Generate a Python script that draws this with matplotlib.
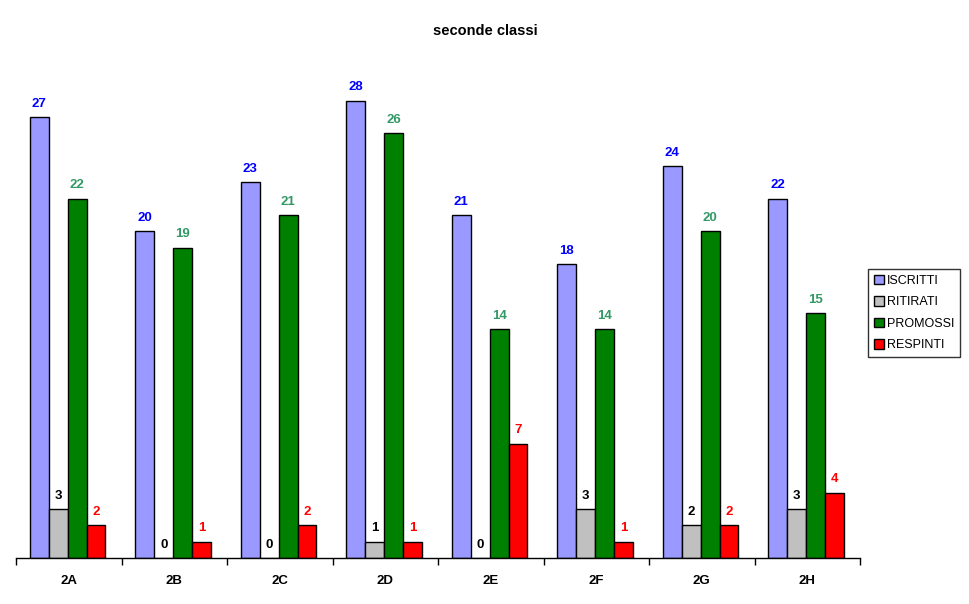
import numpy as np
import matplotlib
matplotlib.use("Agg")
import matplotlib.pyplot as plt

# Data
classi = ["2A", "2B", "2C", "2D", "2E", "2F", "2G", "2H"]
iscritti = [27, 20, 23, 28, 21, 18, 24, 22]
ritirati = [3, 0, 0, 1, 0, 3, 2, 3]
promossi = [22, 19, 21, 26, 14, 14, 20, 15]
respinti = [2, 1, 2, 1, 7, 1, 2, 4]

series = [
    ("ISCRITTI", iscritti, "#9999FF", "#0000FF"),
    ("RITIRATI", ritirati, "#C0C0C0", "#000000"),
    ("PROMOSSI", promossi, "#008000", "#339966"),
    ("RESPINTI", respinti, "#FF0000", "#FF0000"),
]

plt.rcParams["font.family"] = ["Liberation Sans", "DejaVu Sans"]

fig = plt.figure(figsize=(9.7, 6.04), dpi=100)
ax = fig.add_axes([16 / 970, 46 / 604, 844 / 970, 490 / 604])

x = np.arange(len(classi))
w = 0.179
start = -1.5 * w - 0.01

for i, (name, vals, col, lcol) in enumerate(series):
    pos = x + start + i * w
    ax.bar(pos, vals, width=w, color=col, edgecolor="black", linewidth=1, label=name)
    for p, v in zip(pos, vals):
        ax.text(p, v + 0.45, str(v), ha="center", va="bottom", fontsize=9.5,
                fontweight="bold", color=lcol)

ax.set_xlim(-0.5, len(classi) - 0.5)
ax.set_ylim(0, 30)
ax.set_yticks([])
for s in ["top", "right", "left"]:
    ax.spines[s].set_visible(False)
ax.spines["bottom"].set_linewidth(1)

ax.set_xticks(np.arange(len(classi) + 1) - 0.5)
ax.set_xticklabels([])
ax.set_xticks(x, minor=True)
ax.set_xticklabels(classi, minor=True, fontsize=9.5, fontweight="bold")
ax.tick_params(axis="x", which="major", length=5, width=1, direction="out")
ax.tick_params(axis="x", which="minor", length=0, pad=12)

fig.text(485 / 970, 1 - 31 / 604, "seconde classi", ha="center", va="center",
         fontsize=10.5, fontweight="bold")

leg = ax.legend(loc="center left", frameon=True, fancybox=False,
                edgecolor="black", fontsize=9, handlelength=0.8, handleheight=0.8,
                handletextpad=0.3, borderpad=0.45, labelspacing=0.75,
                borderaxespad=0)
leg.get_frame().set_linewidth(1)
leg.set_bbox_to_anchor((868 / 970, 1 - 313 / 604), transform=fig.transFigure)

plt.savefig("out.png", dpi=100)
